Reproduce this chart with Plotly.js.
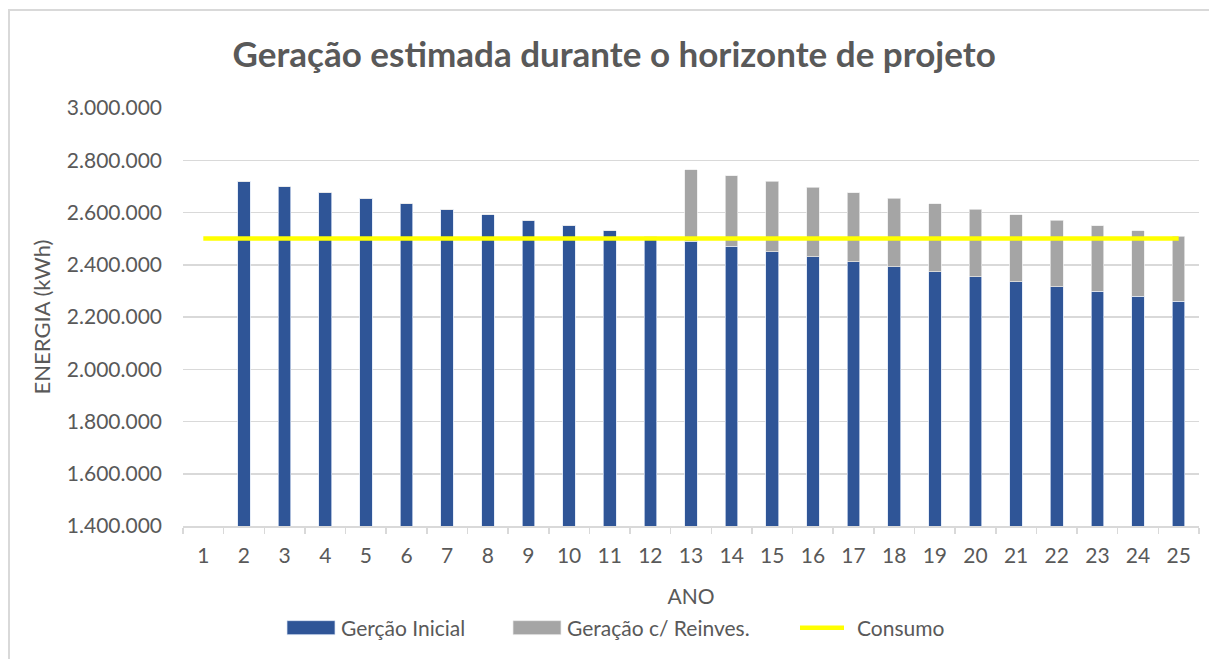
<!DOCTYPE html>
<html>
<head>
<meta charset="utf-8">
<script src="https://cdn.plot.ly/plotly-3.0.1.min.js"></script>
<style>
  html, body { margin: 0; padding: 0; background: #fff; overflow: hidden; }
  #chart { width: 1209px; height: 659px; }
  #frame { position: absolute; left: 8px; top: 9px; width: 1220px; height: 670px; border: 2px solid #d9d9d9; box-sizing: border-box; pointer-events: none; }
</style>
</head>
<body>
<div id="chart"></div>
<div id="frame"></div>
<script>
const anos = ['1','2','3','4','5','6','7','8','9','10','11','12','13','14','15','16','17','18','19','20','21','22','23','24','25'];
const geracaoInicial = [0, 2720000, 2698200, 2676600, 2655200, 2634000, 2612900, 2592000, 2571300, 2550700, 2530300, 2510000, 2489900, 2470000, 2450300, 2430700, 2411200, 2391900, 2372800, 2353800, 2335000, 2316300, 2297800, 2279400, 2261200];
const geracaoReinves = [0, 0, 0, 0, 0, 0, 0, 0, 0, 0, 0, 0, 273100, 270900, 268700, 266500, 264400, 262300, 260200, 258100, 256000, 254000, 251900, 249900, 247900];
const consumo = [2500000, 2500000, 2500000, 2500000, 2500000, 2500000, 2500000, 2500000, 2500000, 2500000, 2500000, 2500000, 2500000, 2500000, 2500000, 2500000, 2500000, 2500000, 2500000, 2500000, 2500000, 2500000, 2500000, 2500000, 2500000];
const yTicks = [1400000, 1600000, 1800000, 2000000, 2200000, 2400000, 2600000, 2800000, 3000000];

const FONT = 'Lato, "Open Sans", sans-serif';
const GREY_TXT = '#595959';

const traces = [
  {
    type: 'bar', name: 'Gerção Inicial', x: anos, y: geracaoInicial,
    marker: { color: '#2F5597', line: { color: 'rgba(220,230,245,0.9)', width: 0.8 } },
    hoverinfo: 'x+y'
  },
  {
    type: 'bar', name: 'Geração c/ Reinves.', x: anos, y: geracaoReinves,
    marker: { color: '#A5A5A5', line: { color: 'rgba(235,235,235,0.9)', width: 0.8 } },
    hoverinfo: 'x+y'
  },
  {
    type: 'scatter', mode: 'lines', name: 'Consumo', x: anos, y: consumo,
    line: { color: '#FFFF00', width: 4.5 }
  }
];

const layout = {
  width: 1209, height: 659,
  margin: { l: 183, r: 10, t: 108, b: 133 },
  paper_bgcolor: 'rgba(0,0,0,0)', plot_bgcolor: '#ffffff',
  separators: ',.',
  barmode: 'stack',
  bargap: 0.69,
  font: { family: FONT, color: GREY_TXT },
  title: {
    text: 'Geração estimada durante o horizonte de projeto',
    font: { family: FONT, size: 35, color: GREY_TXT, weight: 'bold' },
    x: 0.508, xanchor: 'center', y: 0.917, yanchor: 'middle'
  },
  xaxis: {
    type: 'category', range: [-0.5, 24.5],
    showgrid: false, zeroline: false,
    showline: true, linecolor: '#d9d9d9', linewidth: 1.5,
    ticks: 'outside', tickson: 'boundaries', ticklen: 6, tickcolor: '#d9d9d9', tickwidth: 1.5,
    ticklabelstandoff: 10,
    tickfont: { family: FONT, size: 21, color: GREY_TXT },
    title: { text: 'ANO', font: { family: FONT, size: 21, color: GREY_TXT }, standoff: 23 }
  },
  yaxis: {
    range: [1400000, 3000000],
    tickvals: yTicks, tickformat: ',d',
    showgrid: true, gridcolor: '#d9d9d9', gridwidth: 1.5,
    zeroline: false, showline: false, ticks: '',
    ticklabelstandoff: 20,
    tickfont: { family: FONT, size: 21, color: GREY_TXT },
    title: { text: 'ENERGIA (kWh)', font: { family: FONT, size: 22, color: GREY_TXT }, standoff: 10 }
  },
  legend: {
    orientation: 'h', x: 0.5, xanchor: 'center', y: -0.244, yanchor: 'middle',
    font: { family: FONT, size: 21, color: GREY_TXT },
    traceorder: 'normal', itemwidth: 50
  },
  showlegend: true
};

// where each legend swatch should start (left edge, px) to match the reference spacing
const legendSwatchLeft = [287, 513, 800];

Plotly.newPlot('chart', traces, layout, { displayModeBar: false, staticPlot: true }).then(function (gd) {
  // let legend items be moved without being clipped
  gd.querySelectorAll('.legend [clip-path]').forEach(function (el) { el.removeAttribute('clip-path'); });
  gd.querySelectorAll('.legend').forEach(function (el) { el.removeAttribute('clip-path'); });

  const items = gd.querySelectorAll('.legend .traces');
  items.forEach(function (it, i) {
    let sw = null;
    if (i < 2) {
      it.querySelectorAll('.legendpoints path').forEach(function (p) {
        p.setAttribute('d', 'M24,7H-24V-7H24Z');
        sw = sw || p;
      });
    } else {
      it.querySelectorAll('.legendlines path').forEach(function (p) {
        p.setAttribute('d', 'M3,0h44');
        sw = sw || p;
      });
    }
    if (!sw) return;
    const r = sw.getBoundingClientRect();
    if (!isFinite(r.left) || r.width === 0) return;
    const delta = legendSwatchLeft[i] - r.left;
    const tr = it.getAttribute('transform') || '';
    const m = tr.match(/translate\(\s*([-\d.eE]+)[ ,]+([-\d.eE]+)\s*\)/);
    if (m) {
      it.setAttribute('transform', 'translate(' + (parseFloat(m[1]) + delta) + ',' + m[2] + ')');
    }
  });
});
</script>
</body>
</html>
